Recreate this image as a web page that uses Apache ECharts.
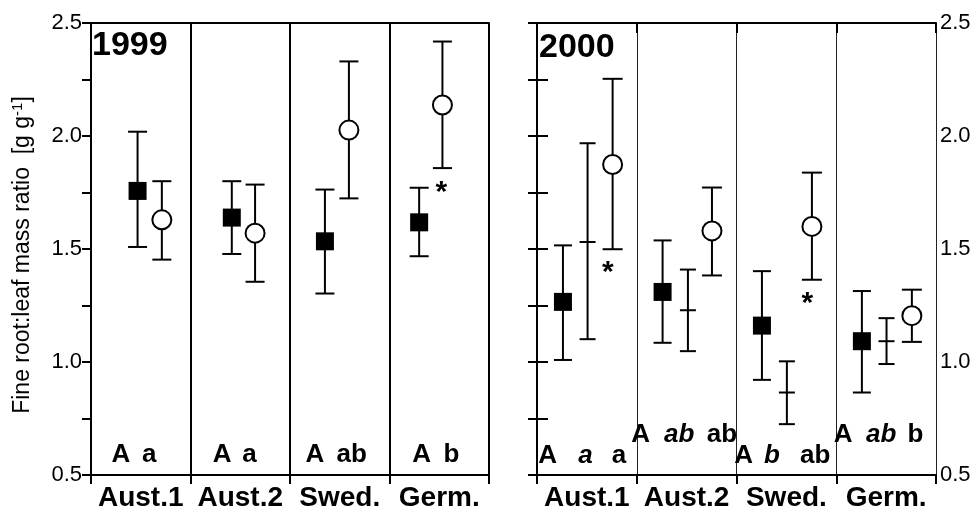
<!DOCTYPE html>
<html><head><meta charset="utf-8">
<script src="https://cdn.jsdelivr.net/npm/echarts@6/dist/echarts.min.js"></script>
<style>html,body{margin:0;padding:0;background:#fff}#c{width:979px;height:512px}</style>
</head><body><div id="c"></div>
<script>
// ---- data ----
const categories = ['Aust.1', 'Aust.2', 'Swed.', 'Germ.'];
const yearLabels = ['1999', '2000'];
const yAxisName = 'Fine root:leaf mass ratio';

// 1999 — filled squares
const sq99X    = [0.468, 1.415, 2.351, 3.298];
const sq99Mean = [1.757, 1.639, 1.534, 1.618];
const sq99Low  = [1.509, 1.478, 1.303, 1.468];
const sq99High = [2.019, 1.800, 1.763, 1.771];
// 1999 — open circles
const ci99X    = [0.712, 1.649, 2.592, 3.532];
const ci99Mean = [1.629, 1.570, 2.026, 2.137];
const ci99Low  = [1.453, 1.355, 1.724, 1.858];
const ci99High = [1.800, 1.785, 2.330, 2.418];

// 2000 — filled squares
const sq00X    = [0.26, 1.259, 2.255, 3.257];
const sq00Mean = [1.266, 1.310, 1.161, 1.092];
const sq00Low  = [1.009, 1.085, 0.921, 0.865];
const sq00High = [1.516, 1.538, 1.402, 1.314];
// 2000 — middle (no marker)
const cr00X    = [0.507, 1.513, 2.505, 3.504];
const cr00Mean = [1.531, 1.229, 0.865, 1.092];
const cr00Low  = [1.101, 1.048, 0.725, 0.991];
const cr00High = [1.968, 1.409, 1.003, 1.194];
// 2000 — open circles
const ci00X    = [0.758, 1.754, 2.756, 3.758];
const ci00Mean = [1.874, 1.580, 1.600, 1.205];
const ci00Low  = [1.499, 1.383, 1.364, 1.089];
const ci00High = [2.253, 1.772, 1.838, 1.320];

// significance letters [x, y, text, italic]
const letters99 = [
  [0.300, 0.603, 'A', 0], [0.585, 0.603, 'a', 0],
  [1.318, 0.603, 'A', 0], [1.592, 0.603, 'a', 0],
  [2.251, 0.603, 'A', 0], [2.619, 0.603, 'ab', 0],
  [3.322, 0.603, 'A', 0], [3.623, 0.603, 'b', 0]
];
const letters00 = [
  [0.106, 0.600, 'A', 0], [0.486, 0.600, 'a', 1], [0.822, 0.600, 'a', 0],
  [1.040, 0.692, 'A', 0], [1.425, 0.692, 'ab', 1], [1.854, 0.692, 'ab', 0],
  [2.072, 0.600, 'A', 0], [2.355, 0.600, 'b', 1], [2.789, 0.600, 'ab', 0],
  [3.070, 0.692, 'A', 0], [3.450, 0.692, 'ab', 1], [3.793, 0.692, 'b', 0]
];
// asterisks [x, y]
const stars99 = [[3.522, 1.782]];
const stars00 = [[0.711, 1.424], [2.711, 1.288]];

// ---- build ----
const FONT = 'Liberation Sans, Arial, sans-serif';
function zip4(x, m, lo, hi) { return x.map((v, i) => [v, m[i], lo[i], hi[i]]); }
function pts(x, m) { return x.map((v, i) => [v, m[i]]); }

function errRender(capW, midW) {
  return function (params, api) {
    const x = api.value(0), m = api.value(1), lo = api.value(2), hi = api.value(3);
    const pl = api.coord([x, lo]), ph = api.coord([x, hi]), pm = api.coord([x, m]);
    const st = { stroke: '#000', lineWidth: 2 };
    const ch = [
      { type: 'line', shape: { x1: pl[0], y1: pl[1], x2: ph[0], y2: ph[1] }, style: st },
      { type: 'line', shape: { x1: pl[0] - capW / 2, y1: pl[1], x2: pl[0] + capW / 2, y2: pl[1] }, style: st },
      { type: 'line', shape: { x1: ph[0] - capW / 2, y1: ph[1], x2: ph[0] + capW / 2, y2: ph[1] }, style: st }
    ];
    if (midW) ch.push({ type: 'line', shape: { x1: pm[0] - midW / 2, y1: pm[1], x2: pm[0] + midW / 2, y2: pm[1] }, style: st });
    return { type: 'group', children: ch };
  };
}

function errSeries(g, data, capW, midW) {
  return { type: 'custom', xAxisIndex: g * 3, yAxisIndex: g * 2, data: data, renderItem: errRender(capW, midW), silent: true, z: 3, clip: false };
}
function sqSeries(g, data) {
  return { type: 'scatter', xAxisIndex: g * 3, yAxisIndex: g * 2, data: data, symbol: 'rect', symbolSize: 18, itemStyle: { color: '#000', opacity: 1 }, silent: true, z: 5 };
}
function ciSeries(g, data) {
  return { type: 'scatter', xAxisIndex: g * 3, yAxisIndex: g * 2, data: data, symbol: 'circle', symbolSize: 19, itemStyle: { color: '#fff', borderColor: '#000', borderWidth: 2, opacity: 1 }, silent: true, z: 5 };
}
function letterSeries(g, arr) {
  return {
    type: 'scatter', xAxisIndex: g * 3, yAxisIndex: g * 2, symbolSize: 2, itemStyle: { color: 'rgba(0,0,0,0)', opacity: 1 }, silent: true, z: 6,
    data: arr.map(a => ({ value: [a[0], a[1]], name: a[2], label: { fontStyle: a[3] ? 'italic' : 'normal' } })),
    label: { show: true, position: 'inside', offset: [0, 3], formatter: p => p.name, color: '#000', fontFamily: FONT, fontWeight: 'bold', fontSize: 26 }
  };
}
function starSeries(g, arr) {
  return {
    type: 'scatter', xAxisIndex: g * 3, yAxisIndex: g * 2, symbolSize: 2, itemStyle: { color: 'rgba(0,0,0,0)', opacity: 1 }, silent: true, z: 6,
    data: arr,
    label: { show: true, position: 'inside', offset: [0, 7], formatter: '*', color: '#000', fontFamily: FONT, fontWeight: 'bold', fontSize: 30 }
  };
}

const axLine = { show: true, lineStyle: { color: '#000', width: 2 } };
function xAxes(g, thinDiv) {
  return [
    { gridIndex: g, type: 'value', position: 'bottom', min: 0, max: 4, interval: 1,
      axisLine: axLine, axisTick: { show: true, inside: false, length: 9, lineStyle: { color: '#000', width: 2 } },
      axisLabel: { show: false },
      splitLine: { show: true, lineStyle: { color: thinDiv ? '#222' : '#000', width: thinDiv ? 1 : 2 } } },
    { gridIndex: g, type: 'category', position: 'bottom', data: categories, boundaryGap: true,
      axisLine: { show: false }, axisTick: { show: false },
      axisLabel: { show: true, interval: 0, margin: 9, color: '#000', fontFamily: FONT, fontWeight: 'bold', fontSize: 28 } },
    { gridIndex: g, type: 'value', position: 'top', min: 0, max: 4, interval: 1,
      axisLine: axLine, axisTick: { show: thinDiv, inside: true, length: 10, lineStyle: { color: '#000', width: 2 } },
      axisLabel: { show: false }, splitLine: { show: false } }
  ];
}
const fmt = v => (Math.abs(v * 2 - Math.round(v * 2)) < 1e-6 ? v.toFixed(1) : '');

const option = {
  animation: false,
  backgroundColor: '#fff',
  grid: [
    { left: 91, top: 23, width: 398, height: 456 },
    { left: 537, top: 23, width: 399, height: 456 }
  ],
  xAxis: [].concat(xAxes(0, false), xAxes(1, true)),
  yAxis: [
    { gridIndex: 0, type: 'value', position: 'left', min: 0.5, max: 2.5, interval: 0.5,
      axisLine: axLine, axisTick: { show: true, inside: false, length: 7, lineStyle: { color: '#000', width: 2 } },
      axisLabel: { show: true, margin: 9, formatter: v => v.toFixed(1), color: '#000', fontFamily: FONT, fontSize: 22 },
      splitLine: { show: false },
      name: '{m|' + yAxisName + '  [g g}{s|-1}{m|]}', nameLocation: 'middle', nameGap: 55, nameRotate: 90,
      nameTextStyle: { color: '#000', fontFamily: FONT, fontSize: 23, padding: [0, 12, 0, 0],
        rich: { m: { fontFamily: FONT, fontSize: 23, color: '#000', lineHeight: 26 },
                s: { fontFamily: FONT, fontSize: 15, color: '#000', verticalAlign: 'top', lineHeight: 26 } } } },
    { gridIndex: 0, type: 'value', position: 'right', min: 0.5, max: 2.5, interval: 0.25,
      axisLine: axLine, axisTick: { show: true, inside: true, length: 9, lineStyle: { color: '#000', width: 2 } },
      axisLabel: { show: false }, splitLine: { show: false } },
    { gridIndex: 1, type: 'value', position: 'left', min: 0.5, max: 2.5, interval: 0.25,
      axisLine: axLine, axisTick: { show: true, inside: true, length: 11, lineStyle: { color: '#000', width: 2 } },
      axisLabel: { show: false }, splitLine: { show: false } },
    { gridIndex: 1, type: 'value', position: 'right', min: 0.5, max: 2.5, interval: 0.25,
      axisLine: axLine, axisTick: { show: true, inside: true, length: 9, lineStyle: { color: '#000', width: 2 } },
      axisLabel: { show: true, margin: 4, formatter: fmt, color: '#000', fontFamily: FONT, fontSize: 22 },
      splitLine: { show: false } }
  ],
  graphic: [
    { type: 'text', x: 92, y: 46, style: { text: yearLabels[0], font: 'bold 34px ' + FONT, fill: '#000', verticalAlign: 'middle' }, z: 10 },
    { type: 'text', x: 539, y: 48, style: { text: yearLabels[1], font: 'bold 34px ' + FONT, fill: '#000', verticalAlign: 'middle' }, z: 10 }
  ],
  series: [
    errSeries(0, zip4(sq99X, sq99Mean, sq99Low, sq99High), 19, 0),
    errSeries(0, zip4(ci99X, ci99Mean, ci99Low, ci99High), 19, 0),
    sqSeries(0, pts(sq99X, sq99Mean)),
    ciSeries(0, pts(ci99X, ci99Mean)),
    letterSeries(0, letters99),
    starSeries(0, stars99),
    errSeries(1, zip4(sq00X, sq00Mean, sq00Low, sq00High), 18, 0),
    errSeries(1, zip4(cr00X, cr00Mean, cr00Low, cr00High), 16, 16),
    errSeries(1, zip4(ci00X, ci00Mean, ci00Low, ci00High), 20, 0),
    sqSeries(1, pts(sq00X, sq00Mean)),
    ciSeries(1, pts(ci00X, ci00Mean)),
    letterSeries(1, letters00),
    starSeries(1, stars00)
  ]
};
const chart = echarts.init(document.getElementById('c'), null, { renderer: 'canvas' });
chart.setOption(option);
</script></body></html>
